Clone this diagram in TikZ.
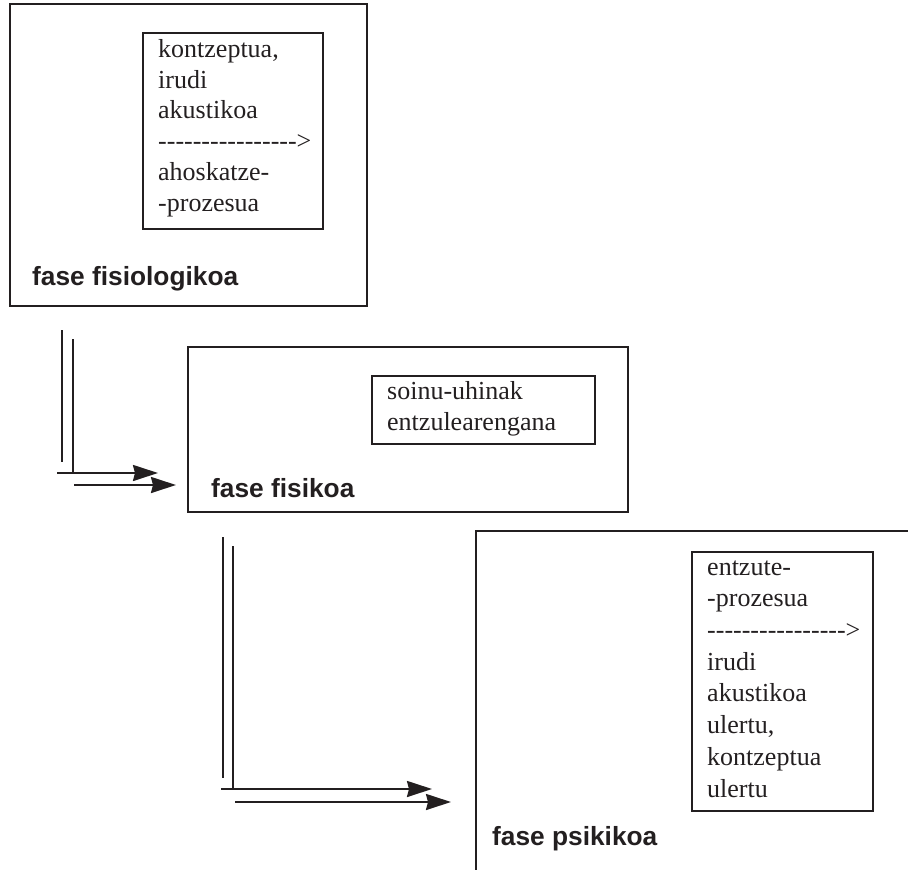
\documentclass[tikz,border=0pt]{standalone}
\usepackage{fontspec}
\setmainfont{Liberation Serif}[Ligatures=TeXOff]
\setsansfont{Liberation Sans}[Ligatures={TeXOff,CommonOff}]
\usetikzlibrary{arrows.meta}
\definecolor{ink}{RGB}{35,31,32}

\begin{document}
\begin{tikzpicture}[x=1pt,y=-1pt,
  phase/.style={draw=ink, line width=1.2pt, inner sep=0pt, outer sep=0pt,
                anchor=north west},
  stepbox/.style={draw=ink, line width=1.2pt, inner sep=0pt, outer sep=0pt,
                anchor=north west},
  boxtext/.style={text=ink, align=left, inner sep=0pt, anchor=north west},
  phaselabel/.style={text=ink, inner sep=0pt, anchor=base west,
                font=\sffamily\bfseries\fontsize{26.3}{30}\selectfont},
  flowline/.style={draw=ink, line width=2.2pt},
  flowarrow/.style={draw=ink, line width=2.2pt,
                -{Stealth[length=25pt, width=16pt, inset=2pt]}}]

  \useasboundingbox (0,0) rectangle (908,870);
  \clip (0,0) rectangle (908,870);

  % physiological phase
  \node[phase, minimum width=357pt, minimum height=302pt] (fisio) at (10,4) {};
  \node[stepbox, minimum width=180pt, minimum height=196pt] (fisiobox) at (143,33) {};
  \node[boxtext, font=\fontsize{26}{30.8}\selectfont] (fisiotext) at (158,35.44)
    {\strut kontzeptua,\\ irudi\\ akustikoa\\ ---------------->\\ ahoskatze-\\ -prozesua};
  \node[phaselabel] (fisiolabel) at (32,285) {fase fisiologikoa};

  % physical phase
  \node[phase, minimum width=440pt, minimum height=165pt] (fisik) at (188,347) {};
  \node[stepbox, minimum width=223pt, minimum height=68pt] (fisikbox) at (372,376) {};
  \node[boxtext, font=\fontsize{26}{31.5}\selectfont] (fisiktext) at (387,376.95)
    {\strut soinu-uhinak\\ entzulearengana};
  \node[phaselabel] (fisiklabel) at (211,497) {fase fisikoa};

  % psychic phase (runs past the page edge)
  \node[phase, minimum width=560pt, minimum height=420pt] (psiki) at (476,531) {};
  \node[stepbox, minimum width=181pt, minimum height=259pt] (psikibox) at (692,552) {};
  \node[boxtext, font=\fontsize{26}{31.7}\selectfont] (psikitext) at (707,552.8)
    {\strut entzute-\\ -prozesua\\ ---------------->\\ irudi\\ akustikoa\\ ulertu,\\ kontzeptua\\ ulertu};
  \node[phaselabel] (psikilabel) at (492,845) {fase psikikoa};

  % transition from the physiological to the physical phase
  \coordinate (a1t) at (62,330);  \coordinate (a1b) at (62,462);
  \coordinate (b1t) at (73,339);  \coordinate (b1b) at (73,473);
  \coordinate (c1s) at (57,473);  \coordinate (c1e) at (158,473);
  \coordinate (d1s) at (74,485);  \coordinate (d1e) at (176,485);
  \draw[flowline] (a1t) -- (a1b);
  \draw[flowline] (b1t) -- (b1b);
  \draw[flowarrow] (c1s) -- (c1e);
  \draw[flowarrow] (d1s) -- (d1e);

  % transition from the physical to the psychic phase
  \coordinate (a2t) at (223,537); \coordinate (a2b) at (223,778);
  \coordinate (b2t) at (233,546); \coordinate (b2b) at (233,789);
  \coordinate (c2s) at (221,789); \coordinate (c2e) at (432,789);
  \coordinate (d2s) at (235,802); \coordinate (d2e) at (451,802);
  \draw[flowline] (a2t) -- (a2b);
  \draw[flowline] (b2t) -- (b2b);
  \draw[flowarrow] (c2s) -- (c2e);
  \draw[flowarrow] (d2s) -- (d2e);
\end{tikzpicture}
\end{document}
